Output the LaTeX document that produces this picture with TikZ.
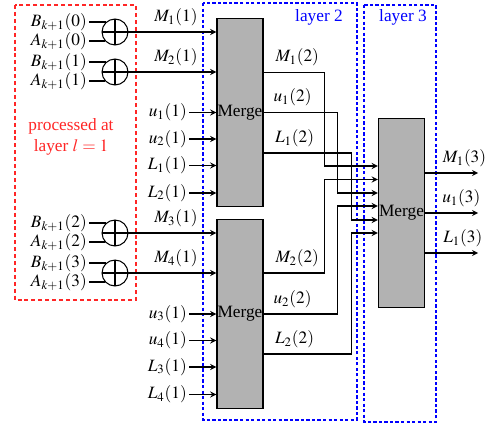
\documentclass[tikz,border=0pt]{standalone}
\usepackage{mathptmx}
\usepackage{fontspec}
\setmainfont{Liberation Serif}
\usetikzlibrary{calc}

\tikzset{
  mergebox/.style={draw, thick, fill=gray!60, minimum width=26.6pt, minimum height=109pt, inner sep=0pt},
  xorop/.style={draw, circle, minimum size=15pt, inner sep=0pt,
    path picture={\draw (path picture bounding box.north) -- (path picture bounding box.south)
                        (path picture bounding box.west) -- (path picture bounding box.east);}},
  inlabel/.style={anchor=east, inner sep=1pt},
  layerbox/.style={draw=blue, dash pattern=on 1.9pt off 1.3pt},
}

\begin{document}
\begin{tikzpicture}[x=0.578pt, y=-0.578pt, >=stealth, semithick]
            \useasboundingbox (0,0) rectangle (490,428);

            % dashed frames
            \draw[red!85, dash pattern=on 2.3pt off 1.7pt] (15,5) rectangle (136,300);
            \draw[layerbox] (203,3) rectangle (357,420);
            \draw[layerbox] (364,5) rectangle (436,422);
            \node[blue] (lay2) at (319,17) {layer 2};
            \node[blue] (lay3) at (403,17) {layer 3};
            \node[red!85, align=center] (proc) at (71,137) {processed at\\layer $l=1$};

            % merge blocks
            \node[mergebox] (m1) at (240,112.5) {Merge};
            \node[mergebox] (m2) at (240,314) {Merge};
            \node[mergebox] (m3) at (401.5,213) {Merge};

            % xor inputs of layer 1
            \node[xorop] (x0) at (115,32) {};
            \node[xorop] (x1) at (115,72) {};
            \node[xorop] (x2) at (115,233) {};
            \node[xorop] (x3) at (115,273) {};

            \foreach \i/\m/\n in {0/1/1, 1/1/2, 2/2/3, 3/2/4} {
                \node[inlabel] (b\i) at ($(x\i)+(-26,-10)$) {$B_{k+1}(\i)$};
                \node[inlabel] (a\i) at ($(x\i)+(-26,9)$) {$A_{k+1}(\i)$};
                \draw (b\i.east) -- (b\i.east -| x\i.130);
                \draw (a\i.east) -- (a\i.east -| x\i.224);
                \draw[->] (x\i) -- node[above, pos=0.54] {$M_{\n}(1)$} (x\i -| m\m.west);
            }

            % other inputs of layer 2
            \foreach \m/\a/\b in {1/1/2, 2/3/4} {
                \node[inlabel] (u\a) at ($(m\m.center)+(-51,0)$) {$u_{\a}(1)$};
                \node[inlabel] (u\b) at ($(m\m.center)+(-51,26.5)$) {$u_{\b}(1)$};
                \node[inlabel] (l\a) at ($(m\m.center)+(-51,53)$) {$L_{\a}(1)$};
                \node[inlabel] (l\b) at ($(m\m.center)+(-51,80.5)$) {$L_{\b}(1)$};
                \draw[->] (u\a) -- (u\a -| m\m.west);
                \draw[->] (u\b) -- (u\b -| m\m.west);
                \draw[->] (l\a) -- (l\a -| m\m.west);
                \draw[->] (l\b) -- (l\b -| m\m.west);
            }

            % layer 2 to layer 3
            \draw[->] ($(m1.east)+(0,-40)$) -- node[above, pos=0.55] {$M_1(2)$} ++(61,0) |- ($(m3.west)+(0,-47)$);
            \draw[->] ($(m1.east)+(0,0)$) -- node[above, pos=0.39] {$u_1(2)$} ++(74,0) |- ($(m3.west)+(0,-20)$);
            \draw[->] ($(m1.east)+(0,40.5)$) -- node[above, pos=0.35] {$L_1(2)$} ++(88,0) |- ($(m3.west)+(0,7)$);
            \draw[->] ($(m2.east)+(0,-41)$) -- node[above, pos=0.55] {$M_2(2)$} ++(61,0) |- ($(m3.west)+(0,-33.5)$);
            \draw[->] ($(m2.east)+(0,0)$) -- node[above, pos=0.39] {$u_2(2)$} ++(74,0) |- ($(m3.west)+(0,-7)$);
            \draw[->] ($(m2.east)+(0,40)$) -- node[above, pos=0.35] {$L_2(2)$} ++(88,0) |- ($(m3.west)+(0,20)$);

            % outputs of layer 3
            \draw[->] ($(m3.east)+(0,-40)$) -- node[above, pos=0.74] {$M_1(3)$} ++(53,0);
            \draw[->] (m3.east) -- node[above, pos=0.68] {$u_1(3)$} ++(53,0);
            \draw[->] ($(m3.east)+(0,40)$) -- node[above, pos=0.71] {$L_1(3)$} ++(53,0);
\end{tikzpicture}
\end{document}
